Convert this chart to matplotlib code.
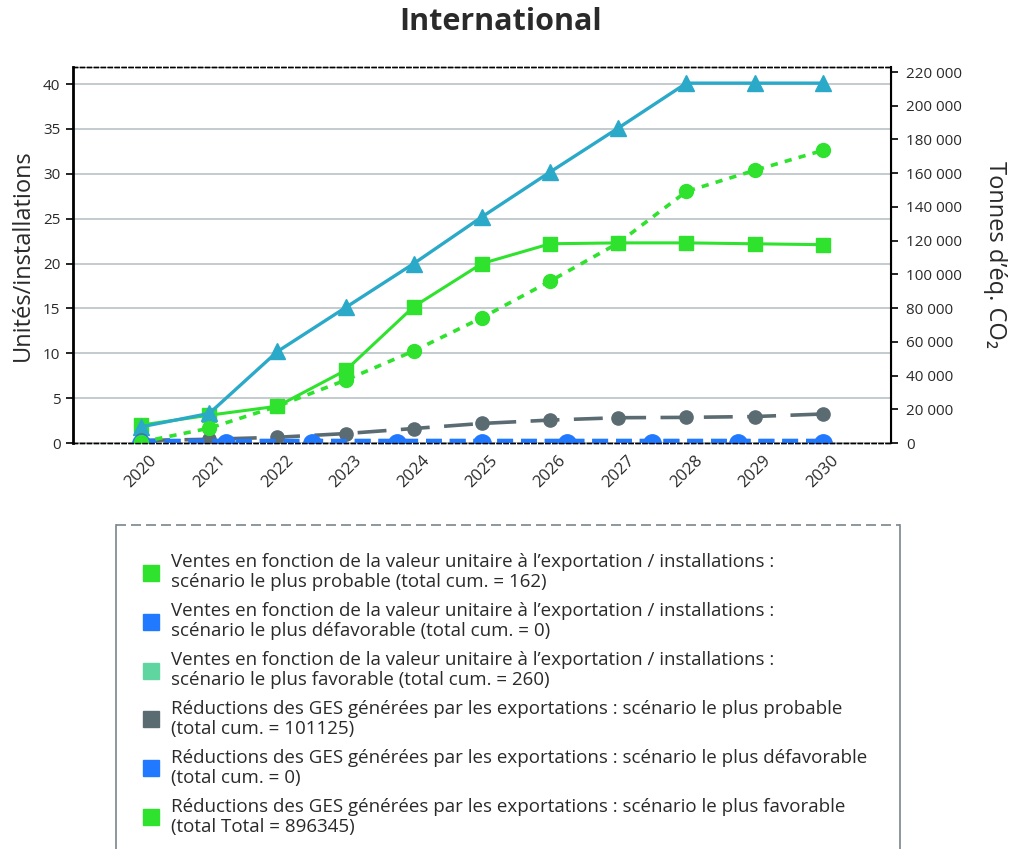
import numpy as np
import matplotlib.pyplot as plt
from matplotlib.lines import Line2D
from matplotlib.ticker import FuncFormatter

plt.rcParams['font.family'] = ['Open Sans', 'DejaVu Sans']

years = [2020, 2021, 2022, 2023, 2024, 2025, 2026, 2027, 2028, 2029, 2030]

# units / installations (left axis)
ventes_probable = [2.0, 3.1, 4.1, 8.1, 15.2, 20.0, 22.2, 22.3, 22.3, 22.2, 22.1]
ventes_defavorable = [0, 0, 0, 0, 0, 0, 0, 0, 0, 0, 0]
ventes_favorable = [1.8, 3.3, 10.2, 15.1, 20.0, 25.2, 30.2, 35.1, 40.1, 40.1, 40.1]

# GHG reductions, t CO2e (right axis)
ges_probable = [1500, 2200, 3400, 5600, 8600, 11600, 13600, 15000, 15200, 15700, 17200]
ges_defavorable = [0, 0, 0, 0, 0, 0, 0, 0, 0]
ges_favorable = [545, 8800, 21800, 37300, 54600, 74300, 96000, 118600, 149200, 161700, 173500]

legend_labels = [
    "Ventes en fonction de la valeur unitaire à l’exportation / installations :\n"
    "scénario le plus probable (total cum. = 162)",
    "Ventes en fonction de la valeur unitaire à l’exportation / installations :\n"
    "scénario le plus défavorable (total cum. = 0)",
    "Ventes en fonction de la valeur unitaire à l’exportation / installations :\n"
    "scénario le plus favorable (total cum. = 260)",
    "Réductions des GES générées par les exportations : scénario le plus probable\n"
    "(total cum. = 101125)",
    "Réductions des GES générées par les exportations : scénario le plus défavorable\n"
    "(total cum. = 0)",
    "Réductions des GES générées par les exportations : scénario le plus favorable\n"
    "(total Total = 896345)",
]
legend_colors = ['#2ee22e', '#2079ff', '#5fd6a0', '#5b6b72', '#2079ff', '#2ee22e']

GREEN = '#2ee22e'
TEAL = '#2aa9c9'
GREY = '#5b6b72'
BLUE = '#2079ff'
TXT = '#2a2a2a'

fig = plt.figure(figsize=(10.18, 8.49), dpi=100)
ax = fig.add_axes([0.0717, 0.4782, 0.8035, 0.4429])
ax2 = ax.twinx()

ax.set_xlim(2019, 2031)
ax.set_ylim(0, 41.9)
ax2.set_ylim(0, 223000)

# gridlines on the left scale
ax.set_yticks(range(0, 45, 5))
ax.grid(axis='y', color='#c3cbce', linewidth=1.4)
ax.set_axisbelow(True)

ax.plot(years, ventes_defavorable, color=BLUE, lw=6, dashes=(1.9, 0.95), zorder=3)
ax.plot(years, ventes_probable, color=GREEN, lw=2.2, marker='s', ms=10, zorder=4)
ax.plot(years, ventes_favorable, color=TEAL, lw=2.4, marker='^', ms=12, zorder=5)

ax2.plot(years, ges_probable, color=GREY, lw=2.6, dashes=(8, 4), marker='o', ms=9.5, zorder=3)
ax2.plot(np.linspace(years[0], years[-1], len(ges_defavorable)), ges_defavorable,
         color=BLUE, lw=6, dashes=(1.9, 0.95), marker='o', ms=12.5, zorder=4)
ax2.plot(years, ges_favorable, color=GREEN, lw=2.6, dashes=(2, 2), marker='o', ms=10, zorder=5)

# axes styling
for a in (ax, ax2):
    a.spines['top'].set_linestyle((0, (3, 2)))
    a.spines['top'].set_linewidth(1.0)
    a.spines['bottom'].set_linestyle((0, (3, 2)))
    a.spines['bottom'].set_linewidth(1.0)
    a.spines['bottom'].set_zorder(6)
ax.spines['left'].set_linewidth(2.0)
ax2.spines['right'].set_linewidth(1.5)
ax2.spines['left'].set_visible(False)

ax.set_xticks(years)
ax.set_xticklabels([str(y) for y in years], rotation=45, ha='center', va='top')
ax.tick_params(axis='x', length=0, pad=7, labelsize=12, labelcolor=TXT)
ax.tick_params(axis='y', length=5, width=1.2, labelsize=11, labelcolor=TXT, pad=4)

ax2.set_yticks(range(0, 220001, 20000))
ax2.yaxis.set_major_formatter(FuncFormatter(lambda v, p: f"{int(v):,}".replace(',', ' ')))
ax2.tick_params(axis='y', length=5, width=1.2, labelsize=11, labelcolor=TXT, pad=6)

ax.set_ylabel('Unités/installations', fontsize=17, color=TXT)
ax.yaxis.set_label_coords(-0.046, 0.5)
ax2.set_ylabel('Tonnes d’éq. CO₂', fontsize=17, color=TXT, rotation=270, labelpad=32)

fig.text(0.492, 0.974, 'International', ha='center', va='center',
         fontsize=22, fontweight='bold', color=TXT)

# legend box
box_l, box_r, box_t = 116 / 1018, 900 / 1018, 1 - 525 / 849
fig.add_artist(Line2D([box_l, box_r], [box_t, box_t], color='#7a868b', lw=1.2,
                      linestyle=(0, (6, 3)), transform=fig.transFigure))
fig.add_artist(Line2D([box_l, box_l], [box_t, 0], color='#7a868b', lw=1.2,
                      transform=fig.transFigure))
fig.add_artist(Line2D([box_r, box_r], [box_t, 0], color='#7a868b', lw=1.2,
                      transform=fig.transFigure))

handles = [Line2D([], [], linestyle='none', marker='s', ms=12, color=c) for c in legend_colors]
leg = fig.legend(handles, legend_labels, loc='upper left', bbox_to_anchor=(0.131, 0.357),
                 frameon=False, fontsize=13.5, labelspacing=0.6, handletextpad=0.5,
                 handlelength=1.1, borderaxespad=0)
for t in leg.get_texts():
    t.set_linespacing(1.12)
    t.set_color(TXT)

fig.savefig('out.png', dpi=100)
